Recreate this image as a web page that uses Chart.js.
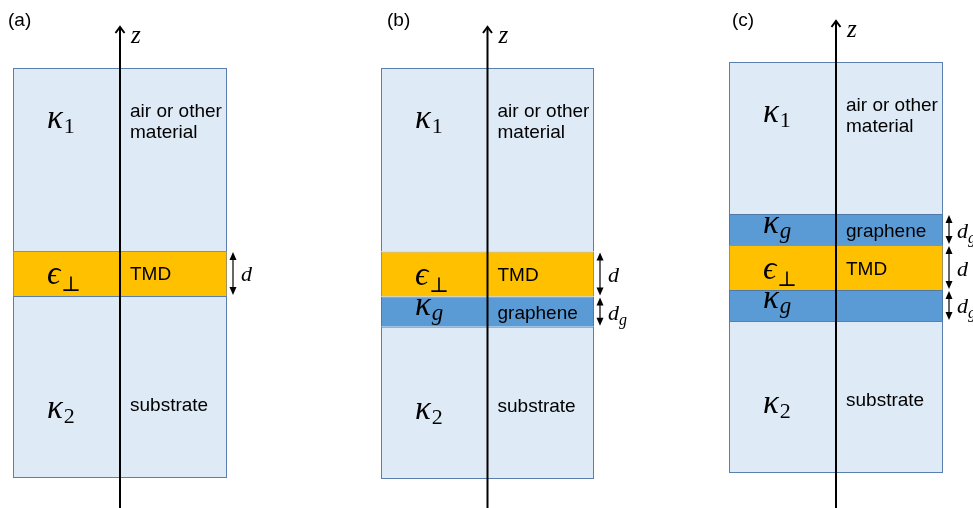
<!DOCTYPE html>
<html>
<head>
<meta charset="utf-8">
<script src="https://cdn.jsdelivr.net/npm/chart.js@4/dist/chart.umd.min.js"></script>
<style>
  html, body { margin: 0; padding: 0; background: #ffffff; }
  #wrap { position: relative; width: 973px; height: 508px; overflow: hidden; }
  canvas { position: absolute; top: 0; }
</style>
</head>
<body>
<div id="wrap">
  <canvas id="pa" width="370" height="508" style="left:0px"></canvas>
  <canvas id="pb" width="350" height="508" style="left:370px"></canvas>
  <canvas id="pc" width="253" height="508" style="left:720px"></canvas>
</div>
<script>
// Panel tags
const panelTags = ['(a)', '(b)', '(c)'];

// Layer stacks, listed from the bottom (substrate) upwards; thickness in units of d
const kindsA = ['substrate', 'tmd', 'air'];
const thicknessA = [4.05, 1.00, 4.07];
const textA = ['substrate', 'TMD', 'air or other|material'];
const symbolA = [['κ', '2'], ['ϵ', '⊥'], ['κ', '1']];
const dimA = ['', 'd', ''];

const kindsB = ['substrate', 'graphene', 'tmd', 'air'];
const thicknessB = [3.38, 0.67, 1.00, 4.07];
const textB = ['substrate', 'graphene', 'TMD', 'air or other|material'];
const symbolB = [['κ', '2'], ['κ', 'g'], ['ϵ', '⊥'], ['κ', '1']];
const dimB = ['', 'd|g', 'd', ''];

const kindsC = ['substrate', 'graphene', 'tmd', 'graphene', 'air'];
const thicknessC = [3.38, 0.69, 1.00, 0.69, 3.38];
const textC = ['substrate', '', 'TMD', 'graphene', 'air or other|material'];
const symbolC = [['κ', '2'], ['κ', 'g'], ['ϵ', '⊥'], ['κ', 'g'], ['κ', '1']];
const dimC = ['', 'd|g', 'd', 'd|g', ''];

const fills = { substrate: '#deebf7', air: '#deebf7', tmd: '#ffc000', graphene: '#5b9bd5' };
const edges = { substrate: '#5a7fae', air: '#5a7fae', tmd: '#a39257', graphene: '#4d78a8' };

const SANS = "'Liberation Sans', Arial, sans-serif";
const MATH = "'Liberation Serif', 'DejaVu Serif', serif";

function drawArrowHead(ctx, x, y, dir) {
  // filled head, tip at (x, y); dir = -1 points up, +1 points down
  ctx.beginPath();
  ctx.moveTo(x, y);
  ctx.lineTo(x - 3.5, y - dir * 8);
  ctx.lineTo(x + 3.5, y - dir * 8);
  ctx.closePath();
  ctx.fill();
}

function overlayPlugin(p) {
  return {
    id: 'layerOverlay',
    afterDatasetsDraw(chart) {
      const ctx = chart.ctx;
      const area = chart.chartArea;
      const axisX = chart.scales.x.getPixelForValue(0);
      ctx.save();
      ctx.fillStyle = '#000';
      ctx.strokeStyle = '#000';
      ctx.textBaseline = 'alphabetic';
      ctx.textAlign = 'left';

      // panel tag
      ctx.font = '19px ' + SANS;
      ctx.fillText(p.tag, p.tagX, 26);

      p.kinds.forEach((kind, i) => {
        const el = chart.getDatasetMeta(i).data[0];
        const top = el.y, bottom = el.base, mid = (top + bottom) / 2;
        let textY, symY, subDy = 5;
        if (kind === 'air') { textY = top + 49; symY = top + 60; }
        else if (kind === 'substrate') { textY = bottom - 67; symY = bottom - 60; }
        else if (kind === 'tmd') { textY = mid + 11; symY = mid + 11; subDy = 7; }
        else { textY = mid + 7; symY = mid + 3; subDy = 5; }
        if (kind === 'tmd') textY = mid + 7;

        // material name(s) right of the axis
        ctx.font = '19px ' + SANS;
        const lines = p.texts[i] ? p.texts[i].split('|') : [];
        lines.forEach((ln, k) => ctx.fillText(ln, axisX + 10, textY + k * 21));

        // symbol with subscript left of the axis
        const [main, sub] = p.syms[i];
        const sx = area.left + 34;
        ctx.font = 'italic 33px ' + MATH;
        ctx.fillText(main, sx, symY);
        const w = ctx.measureText(main).width;
        if (/[a-z]/.test(sub)) ctx.font = 'italic 23px ' + MATH;
        else if (sub === '⊥') ctx.font = '21px ' + MATH;
        else ctx.font = '22px ' + MATH;
        ctx.fillText(sub, sx + w + 1, symY + subDy);

        // thickness marker on the right
        if (p.dims[i]) {
          const ax = area.right + 6;
          const y1 = top + 1, y2 = bottom - 1;
          ctx.lineWidth = 1.2;
          ctx.beginPath();
          ctx.moveTo(ax, y1 + 5);
          ctx.lineTo(ax, y2 - 5);
          ctx.stroke();
          drawArrowHead(ctx, ax, y1, -1);
          drawArrowHead(ctx, ax, y2, 1);
          const [dBase, dSub] = p.dims[i].split('|');
          ctx.font = 'italic 22px ' + MATH;
          ctx.fillText(dBase, ax + 8, mid + 8);
          if (dSub) {
            const dw = ctx.measureText(dBase).width;
            ctx.font = 'italic 16px ' + MATH;
            ctx.fillText(dSub, ax + 8 + dw, mid + 13);
          }
        }
      });

      // z axis with open arrow head
      const tipY = area.top - 41;
      ctx.lineWidth = 2;
      ctx.beginPath();
      ctx.moveTo(axisX, chart.height + 2);
      ctx.lineTo(axisX, tipY + 1);
      ctx.stroke();
      ctx.beginPath();
      ctx.moveTo(axisX - 4.5, tipY + 6);
      ctx.lineTo(axisX, tipY);
      ctx.lineTo(axisX + 4.5, tipY + 6);
      ctx.stroke();
      ctx.font = 'italic 25px ' + MATH;
      ctx.fillText('z', axisX + 11, area.top - 25);
      ctx.restore();
    }
  };
}

function buildPanel(canvasId, p) {
  const total = p.thickness.reduce((a, b) => a + b, 0);
  const datasets = p.kinds.map((kind, i) => ({
    label: kind,
    data: [p.thickness[i]],
    backgroundColor: fills[kind],
    borderColor: edges[kind],
    borderWidth: 1,
    borderSkipped: i === 0 ? false : 'start',
    inflateAmount: 0,
    barPercentage: 1,
    categoryPercentage: 1,
    stack: 'layers'
  }));
  return new Chart(document.getElementById(canvasId), {
    type: 'bar',
    data: { labels: [p.tag], datasets },
    options: {
      responsive: false,
      animation: false,
      events: [],
      layout: { padding: p.padding },
      plugins: { legend: { display: false }, tooltip: { enabled: false } },
      scales: {
        x: { stacked: true, display: false },
        y: { stacked: true, display: false, min: 0, max: total }
      }
    },
    plugins: [overlayPlugin(p)]
  });
}

buildPanel('pa', { tag: panelTags[0], tagX: 8, kinds: kindsA, thickness: thicknessA, texts: textA, syms: symbolA, dims: dimA,
  padding: { left: 13, right: 143, top: 68, bottom: 30 } });
buildPanel('pb', { tag: panelTags[1], tagX: 17, kinds: kindsB, thickness: thicknessB, texts: textB, syms: symbolB, dims: dimB,
  padding: { left: 11, right: 126, top: 68, bottom: 29 } });
buildPanel('pc', { tag: panelTags[2], tagX: 12, kinds: kindsC, thickness: thicknessC, texts: textC, syms: symbolC, dims: dimC,
  padding: { left: 9, right: 30, top: 62, bottom: 35 } });
</script>
</body>
</html>
